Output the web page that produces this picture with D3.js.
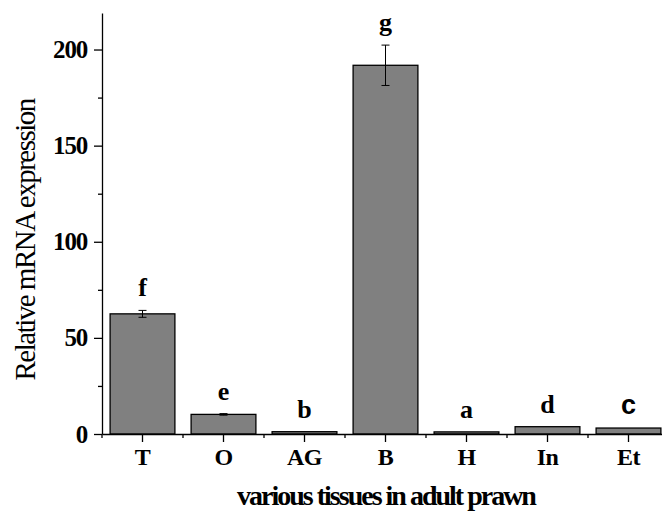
<!DOCTYPE html>
<html>
<head>
<meta charset="utf-8">
<script src="https://cdn.jsdelivr.net/npm/d3@7"></script>
<style>
  body { margin: 0; background: #fff; }
  svg { display: block; }
  text { font-family: "Liberation Serif", "Times New Roman", serif; fill: #000; }
</style>
</head>
<body>
<div id="chart"></div>
<script>
const tissues = ["T", "O", "AG", "B", "H", "In", "Et"]
const expression = [62.5, 10.2, 1.2, 191.8, 1.1, 3.8, 3.1]
const errors = [1.8, 0.4, 0.1, 10.5, 0.1, 0.1, 0.1]
const letters = ["f", "e", "b", "g", "a", "d", "c"]
const majorTicks = [0, 50, 100, 150, 200]
const minorTicks = [25, 75, 125, 175]

const W = 662, H = 513
const MARGIN = {TOP: 13, LEFT: 102, BOTTOM: 79}
const PLOT_H = H - MARGIN.TOP - MARGIN.BOTTOM
const PLOT_W = 567

const svg = d3.select("#chart").append("svg")
    .attr("width", W)
    .attr("height", H)

const g = svg.append("g")
    .attr("transform", `translate(${MARGIN.LEFT}, ${MARGIN.TOP})`)

const y = d3.scaleLinear()
    .domain([0, 219])
    .range([PLOT_H, 0])

const x = d3.scaleBand()
    .domain(tissues)
    .range([0, PLOT_W])
    .paddingInner(0.2)
    .paddingOuter(0.1)

// bars
g.selectAll("rect.bar")
    .data(tissues)
    .enter().append("rect")
    .attr("class", "bar")
    .attr("x", d => x(d))
    .attr("y", (d, i) => y(expression[i]))
    .attr("width", x.bandwidth())
    .attr("height", (d, i) => PLOT_H - y(expression[i]))
    .attr("fill", "#808080")
    .attr("stroke", "#000")
    .attr("stroke-width", 1.3)

// error bars (only where visible)
const eb = g.selectAll("g.err")
    .data(tissues.filter((d, i) => errors[i] >= 0.3))
    .enter().append("g")
    .attr("class", "err")
    .attr("stroke", "#000")
    .attr("stroke-width", 1)
eb.each(function(d) {
    const i = tissues.indexOf(d)
    const cx = x(d) + x.bandwidth() / 2
    const sel = d3.select(this)
    sel.append("line").attr("x1", cx).attr("x2", cx)
        .attr("y1", y(expression[i] + errors[i])).attr("y2", y(expression[i] - errors[i]))
    ;[expression[i] + errors[i], expression[i] - errors[i]].forEach(v => {
        sel.append("line").attr("x1", cx - 4).attr("x2", cx + 4)
            .attr("y1", y(v)).attr("y2", y(v))
    })
})

// significance letters
g.selectAll("text.sig")
    .data(tissues)
    .enter().append("text")
    .attr("class", "sig")
    .attr("x", d => x(d) + x.bandwidth() / 2)
    .attr("y", (d, i) => y(expression[i] + errors[i]) - 14)
    .attr("text-anchor", "middle")
    .style("font-weight", "bold")
    .style("font-size", (d, i) => letters[i] === "c" ? "27px" : "26px")
    .style("font-family", (d, i) => letters[i] === "c" ? "'Liberation Sans', Arial, sans-serif" : null)
    .text((d, i) => letters[i])

// y axis
const yAxis = g.append("g")
    .call(d3.axisLeft(y).tickValues(majorTicks).tickSize(8).tickSizeOuter(0).tickPadding(7))
yAxis.select(".domain").attr("stroke-width", 1.3)
yAxis.selectAll(".tick line").attr("stroke-width", 1.3)
yAxis.selectAll(".tick text")
    .style("font-family", "'Liberation Serif', serif")
    .style("font-size", "25px")
    .style("font-weight", "bold")
    .attr("letter-spacing", "-1.2px")

g.append("g")
    .call(d3.axisLeft(y).tickValues(minorTicks).tickSize(4).tickFormat(""))
    .call(a => a.select(".domain").remove())
    .selectAll(".tick line").attr("stroke-width", 1.3)

// x axis
const xAxis = g.append("g")
    .attr("transform", `translate(0, ${PLOT_H})`)
    .call(d3.axisBottom(x).tickSize(8).tickSizeOuter(0).tickPadding(6))
xAxis.select(".domain").attr("stroke-width", 1.3)
xAxis.selectAll(".tick line").attr("stroke-width", 1.3)
xAxis.selectAll(".tick text")
    .style("font-family", "'Liberation Serif', serif")
    .style("font-size", "24px")
    .style("font-weight", "bold")
    .attr("letter-spacing", "-0.5px")

// minor ticks between categories
const gap = (x.step() - x.bandwidth()) / 2
xAxis.selectAll("line.minor")
    .data(tissues)
    .enter().append("line")
    .attr("class", "minor")
    .attr("x1", d => x(d) - gap)
    .attr("x2", d => x(d) - gap)
    .attr("y1", 0)
    .attr("y2", 4)
    .attr("stroke", "#000")
    .attr("stroke-width", 1.3)

// axis titles
svg.append("text")
    .attr("transform", `translate(35, ${MARGIN.TOP + y(101)}) rotate(-90)`)
    .attr("text-anchor", "middle")
    .style("font-size", "29px")
    .attr("letter-spacing", "-1.5px")
    .text("Relative mRNA expression")

svg.append("text")
    .attr("x", 386)
    .attr("y", 505)
    .attr("text-anchor", "middle")
    .style("font-size", "28px")
    .style("font-weight", "bold")
    .attr("letter-spacing", "-2px")
    .text("various tissues in adult prawn")
</script>
</body>
</html>
